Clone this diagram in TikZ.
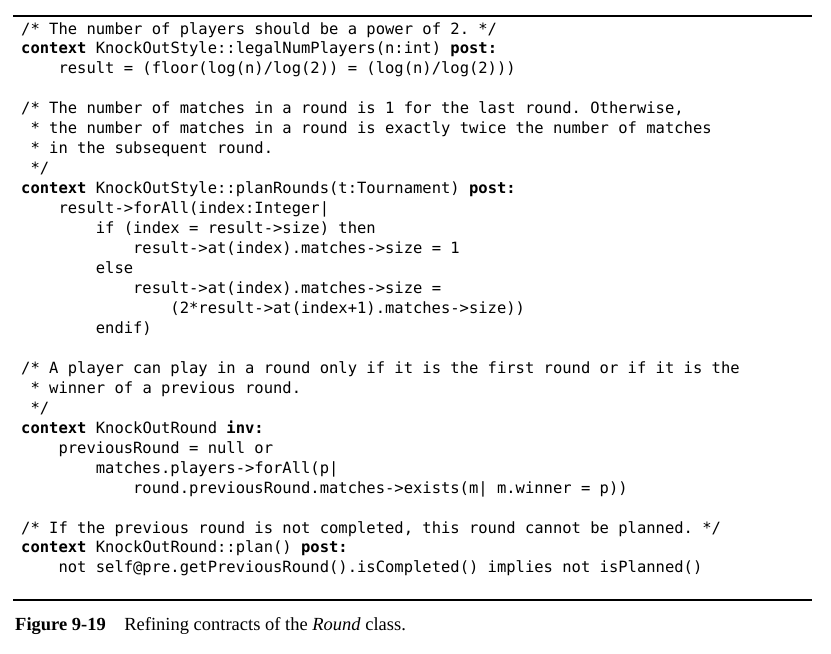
\documentclass[tikz,border=0pt]{standalone}
\usepackage{fontspec}
\setmainfont{Liberation Serif}
\newfontfamily\codefont[WordSpace={1,0,0}]{DejaVu Sans Mono}
\newcommand\kwd[1]{\textbf{#1}}
\begin{document}
\frenchspacing
\begin{tikzpicture}[x=1pt,y=-1pt]
\tikzset{
  code/.style={anchor=base west, inner sep=0pt, font=\codefont\fontsize{15.5}{18}\selectfont},
  rulefig/.style={line width=2pt, black},
  captext/.style={anchor=base west, inner sep=0pt, font=\fontsize{18.5}{21}\selectfont}
}
\useasboundingbox (0,0) rectangle (831,654);
\def\pitch{19.96}
\def\cw{9.33}
\def\xo{21}
\def\yo{34}
% rules
\coordinate (rtl) at (13,16);
\coordinate (rtr) at (812,16);
\coordinate (rbl) at (13,600);
\coordinate (rbr) at (812,600);
\draw[rulefig] (rtl) -- (rtr);
\draw[rulefig] (rbl) -- (rbr);
% code lines
\node[code] (l0) at ({\xo+0*\cw},{\yo+0*\pitch}) {/* The number of players should be a power of 2. */};
\node[code] (l1) at ({\xo+0*\cw},{\yo+1*\pitch}) {\kwd{context} KnockOutStyle::legalNumPlayers(n:int) \kwd{post:}};
\node[code] (l2) at ({\xo+4*\cw},{\yo+2*\pitch}) {result = (floor(log(n)/log(2)) = (log(n)/log(2)))};
\node[code] (l4) at ({\xo+0*\cw},{\yo+4*\pitch}) {/* The number of matches in a round is 1 for the last round. Otherwise,};
\node[code] (l5) at ({\xo+1*\cw},{\yo+5*\pitch}) {* the number of matches in a round is exactly twice the number of matches};
\node[code] (l6) at ({\xo+1*\cw},{\yo+6*\pitch}) {* in the subsequent round.};
\node[code] (l7) at ({\xo+1*\cw},{\yo+7*\pitch}) {*/};
\node[code] (l8) at ({\xo+0*\cw},{\yo+8*\pitch}) {\kwd{context} KnockOutStyle::planRounds(t:Tournament) \kwd{post:}};
\node[code] (l9) at ({\xo+4*\cw},{\yo+9*\pitch}) {result->forAll(index:Integer|};
\node[code] (l10) at ({\xo+8*\cw},{\yo+10*\pitch}) {if (index = result->size) then};
\node[code] (l11) at ({\xo+12*\cw},{\yo+11*\pitch}) {result->at(index).matches->size = 1};
\node[code] (l12) at ({\xo+8*\cw},{\yo+12*\pitch}) {else};
\node[code] (l13) at ({\xo+12*\cw},{\yo+13*\pitch}) {result->at(index).matches->size =};
\node[code] (l14) at ({\xo+16*\cw},{\yo+14*\pitch}) {(2*result->at(index+1).matches->size))};
\node[code] (l15) at ({\xo+8*\cw},{\yo+15*\pitch}) {endif)};
\node[code] (l17) at ({\xo+0*\cw},{\yo+17*\pitch}) {/* A player can play in a round only if it is the first round or if it is the};
\node[code] (l18) at ({\xo+1*\cw},{\yo+18*\pitch}) {* winner of a previous round.};
\node[code] (l19) at ({\xo+1*\cw},{\yo+19*\pitch}) {*/};
\node[code] (l20) at ({\xo+0*\cw},{\yo+20*\pitch}) {\kwd{context} KnockOutRound \kwd{inv:}};
\node[code] (l21) at ({\xo+4*\cw},{\yo+21*\pitch}) {previousRound = null or};
\node[code] (l22) at ({\xo+8*\cw},{\yo+22*\pitch}) {matches.players->forAll(p|};
\node[code] (l23) at ({\xo+12*\cw},{\yo+23*\pitch}) {round.previousRound.matches->exists(m| m.winner = p))};
\node[code] (l25) at ({\xo+0*\cw},{\yo+25*\pitch}) {/* If the previous round is not completed, this round cannot be planned. */};
\node[code] (l26) at ({\xo+0*\cw},{\yo+26*\pitch}) {\kwd{context} KnockOutRound::plan() \kwd{post:}};
\node[code] (l27) at ({\xo+4*\cw},{\yo+27*\pitch}) {not self@pre.getPreviousRound().isCompleted() implies not isPlanned()};
% caption
\node[captext] (cap) at (15,630) {\textbf{Figure 9-19}\hspace{1em}Refining contracts of the \textit{Round} class.};
\end{tikzpicture}
\end{document}
